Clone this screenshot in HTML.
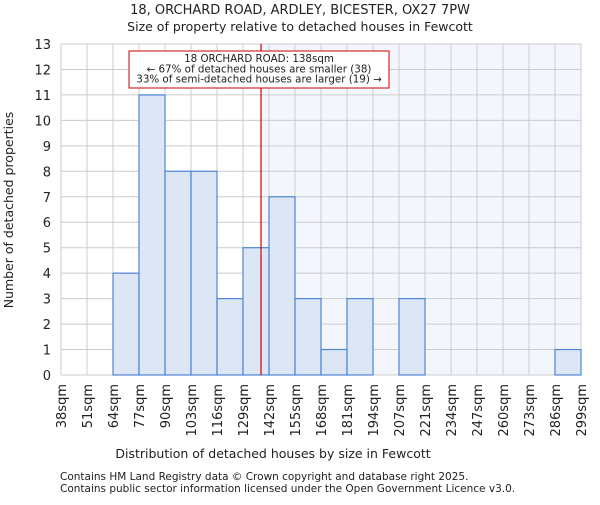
<!DOCTYPE html>
<html><head><meta charset="utf-8"><style>
body{margin:0;background:#fff;}
svg text{font-family:"DejaVu Sans","Liberation Sans",sans-serif;fill:#222;}
</style></head><body>
<svg id="c" width="600" height="500" viewBox="0 0 600 500">
<text x="300" y="14" font-size="13" text-anchor="middle">18, ORCHARD ROAD, ARDLEY, BICESTER, OX27 7PW</text>
<text x="300" y="31" font-size="12.5" text-anchor="middle">Size of property relative to detached houses in Fewcott</text>
<text x="273" y="458" font-size="12.5" text-anchor="middle">Distribution of detached houses by size in Fewcott</text>
<text transform="translate(13,210) rotate(-90)" font-size="12.5" text-anchor="middle">Number of detached properties</text>
<text x="60" y="480" font-size="10.5">Contains HM Land Registry data © Crown copyright and database right 2025.</text>
<text x="60" y="492" font-size="10.5">Contains public sector information licensed under the Open Government Licence v3.0.</text>
<g id="plot"></g>
</svg>
<script>
const binLabels=["38sqm","51sqm","64sqm","77sqm","90sqm","103sqm","116sqm","129sqm","142sqm","155sqm","168sqm","181sqm","194sqm","207sqm","221sqm","234sqm","247sqm","260sqm","273sqm","286sqm","299sqm"];
const binEdges=[38,51,64,77,90,103,116,129,142,155,168,181,194,207,221,234,247,260,273,286,299];
const counts=[0,0,4,11,8,8,3,5,7,3,1,3,0,3,0,0,0,0,0,1];
const yTicks=[0,1,2,3,4,5,6,7,8,9,10,11,12,13];
const subjectSize=138;
const NS="http://www.w3.org/2000/svg";
const L=61,R=581,T=44,B=375,yMax=13;
const nb=counts.length, bw=(R-L)/nb;
function xi(i){return L+i*bw;}
function xv(v){for(let i=0;i<binEdges.length-1;i++){if(v<=binEdges[i+1])return xi(i)+(v-binEdges[i])/(binEdges[i+1]-binEdges[i])*bw;}return R;}
function y(v){return B-v/yMax*(B-T);}
const g=document.getElementById('plot');
function mk(t,a){const e=document.createElementNS(NS,t);for(const k in a)e.setAttribute(k,a[k]);g.appendChild(e);return e;}
const sx=xv(subjectSize);
let e=mk('rect',{x:sx,y:T,width:R-sx,height:B-T,fill:'#f3f6fd'});


for(let i=0;i<=nb;i++){e=mk('line',{x1:xi(i),x2:xi(i),y1:T,y2:B,stroke:'#cccccc','stroke-width':1});

}
yTicks.forEach(t=>{e=mk('line',{x1:L,x2:R,y1:y(t),y2:y(t),stroke:'#cccccc','stroke-width':1});


const tx=mk('text',{x:L-10,y:y(t)+5,'font-size':13,'text-anchor':'end'});tx.textContent=t;

});
counts.forEach((c,i)=>{if(c<=0)return;e=mk('rect',{x:xi(i),y:y(c),width:bw,height:B-y(c),fill:'#dce6f5',stroke:'#4f86d4','stroke-width':1.2});

});
binLabels.forEach((l,i)=>{const tx=mk('text',{transform:`translate(${xi(i)+5},384) rotate(-90)`,'font-size':13,'text-anchor':'end'});tx.textContent=l;

});
e=mk('line',{x1:sx,x2:sx,y1:T,y2:B,stroke:'#cc0000','stroke-width':1.2});


e=mk('rect',{x:129,y:51,width:260,height:37,fill:'#fff',stroke:'#cc0000','stroke-width':1});


["18 ORCHARD ROAD: 138sqm","← 67% of detached houses are smaller (38)","33% of semi-detached houses are larger (19) →"].forEach((s,i)=>{const tx=mk('text',{x:259,y:62+i*10.3,'font-size':10.3,'text-anchor':'middle'});tx.textContent=s;

});
</script>
</body></html>
